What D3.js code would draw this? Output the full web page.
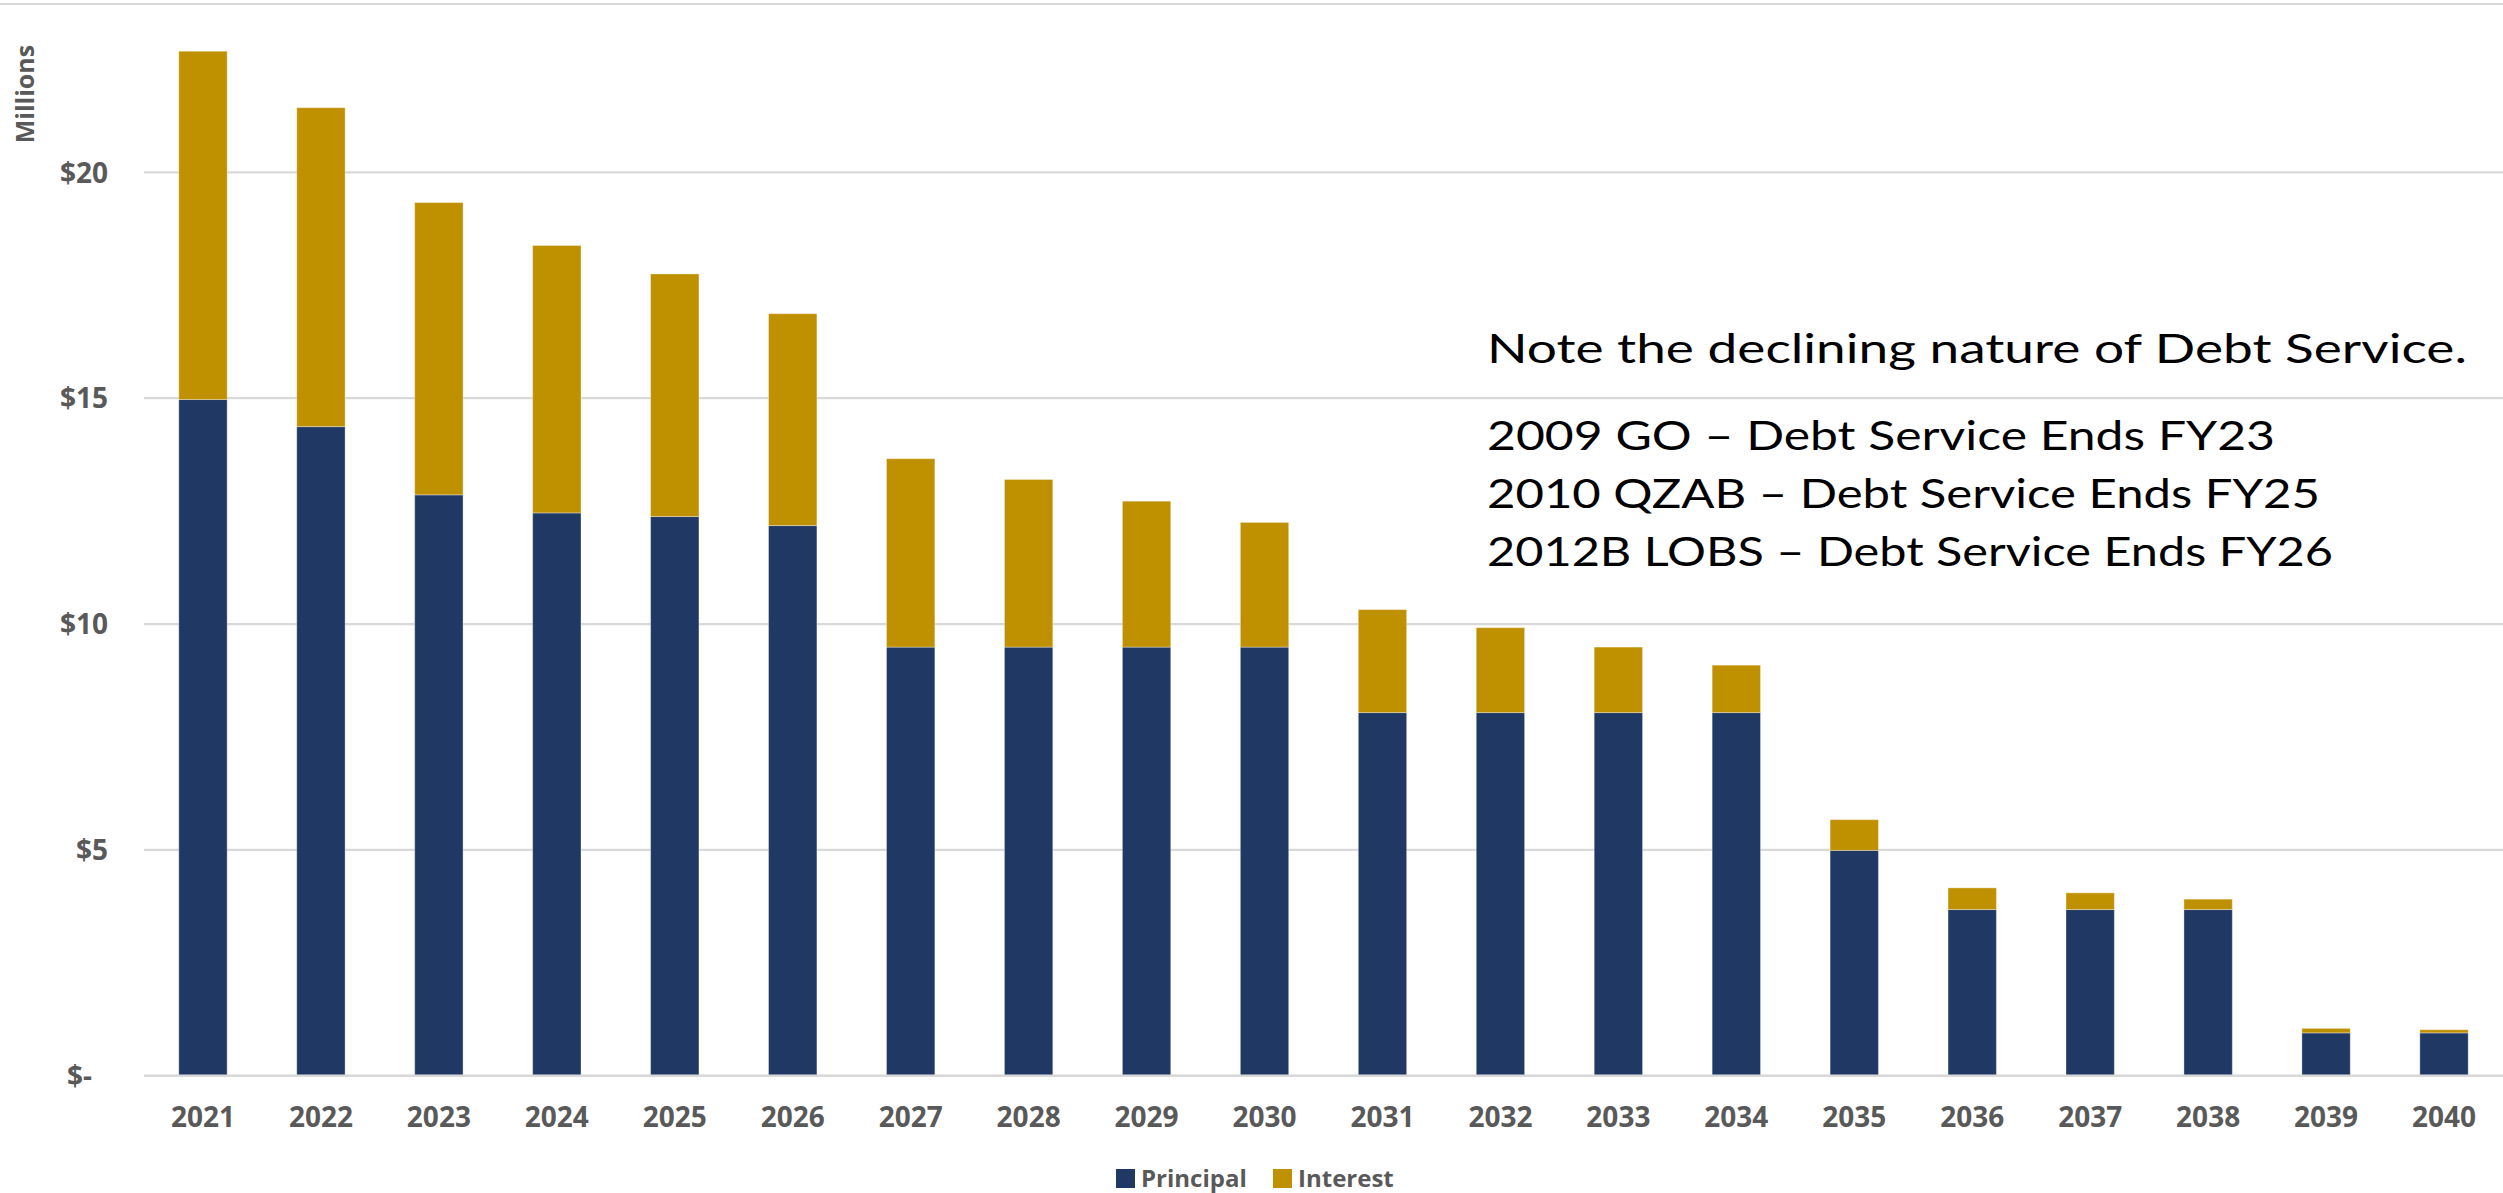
<!DOCTYPE html>
<html>
<head>
<meta charset="utf-8">
<script src="https://cdn.jsdelivr.net/npm/d3@7"></script>
<style>
html,body{margin:0;padding:0;background:#fff;}
svg{display:block;}
</style>
</head>
<body>
<svg id="chart" width="2503" height="1193"></svg>
<script>
// ---- data ----
const years = ["2021","2022","2023","2024","2025","2026","2027","2028","2029","2030",
               "2031","2032","2033","2034","2035","2036","2037","2038","2039","2040"];
const principal = [14.97,14.37,12.86,12.46,12.38,12.18,9.49,9.49,9.49,9.49,
                   8.04,8.04,8.04,8.04,4.99,3.68,3.68,3.68,0.95,0.95];
const interest  = [7.71,7.06,6.47,5.92,5.37,4.69,4.17,3.71,3.23,2.76,
                   2.28,1.88,1.45,1.05,0.68,0.48,0.37,0.23,0.10,0.07];
const seriesNames = ["Principal","Interest"];
const seriesColors = ["#203864","#BF9000"];
const yTicks = [0,5,10,15,20];
const axisTitle = "Millions";
const noteLines = ["Note the declining nature of Debt Service.",
                   "2009 GO \u2013 Debt Service Ends FY23",
                   "2010 QZAB \u2013 Debt Service Ends FY25",
                   "2012B LOBS \u2013 Debt Service Ends FY26"];

// ---- layout ----
const svg = d3.select("#chart");
const left = 144, right = 2503, y0 = 1075.8, pxPerUnit = 45.175;
const x = d3.scaleBand().domain(years).range([left, right]).paddingInner(0.59).paddingOuter(0.295);
const y = d3.scaleLinear().domain([0, 20]).range([y0, y0 - 20 * pxPerUnit]);

const axisFont = "'Open Sans', 'Noto Sans', sans-serif";
const gray = "#595959";

// top border line
svg.append("line").attr("x1", 0).attr("x2", 2503).attr("y1", 4).attr("y2", 4)
   .attr("stroke", "#d9d9d9").attr("stroke-width", 2);

// gridlines
svg.append("g").selectAll("line").data(yTicks).join("line")
   .attr("x1", left).attr("x2", right)
   .attr("y1", d => y(d)).attr("y2", d => y(d))
   .attr("stroke", "#d9d9d9").attr("stroke-width", 2.2);

// stacked data
const rows = years.map((yr, i) => ({year: yr, Principal: principal[i], Interest: interest[i]}));
const stack = d3.stack().keys(seriesNames)(rows);

svg.append("g").selectAll("g").data(stack).join("g")
   .attr("fill", (d, i) => seriesColors[i])
   .selectAll("rect").data(d => d).join("rect")
   .attr("x", d => x(d.data.year))
   .attr("width", x.bandwidth())
   .attr("y", d => y(d[1]))
   .attr("height", d => y(d[0]) - y(d[1]))
   .attr("stroke", "#ffffff").attr("stroke-opacity", 0.35).attr("stroke-width", 1);

// y axis labels
const yAxis = d3.axisLeft(y).tickValues(yTicks).tickSize(0)
   .tickFormat(d => d === 0 ? "$-" : "$" + d);
const gy = svg.append("g").attr("transform", "translate(108,0)").call(yAxis);
gy.select(".domain").remove();
gy.selectAll("text").attr("x", 0).attr("dy", "0.35em")
  .style("font-family", axisFont).style("font-weight", 700).style("font-size", "28px")
  .attr("fill", gray).attr("text-anchor", "end");
gy.selectAll(".tick").filter(d => d === 0).select("text").attr("x", -16);

// x axis labels
const xAxis = d3.axisBottom(x).tickSize(0);
const gx = svg.append("g").attr("transform", `translate(0,${y0})`).call(xAxis);
gx.select(".domain").remove();
gx.selectAll("text").attr("y", 51).attr("dy", 0)
  .style("font-family", axisFont).style("font-weight", 700).style("font-size", "28px")
  .attr("fill", gray);

// baseline
svg.append("line").attr("x1", left).attr("x2", right).attr("y1", y0).attr("y2", y0)
   .attr("stroke", "#d9d9d9").attr("stroke-width", 2.4);

// axis title
svg.append("text").attr("transform", "translate(34,94) rotate(-90)")
   .attr("text-anchor", "middle")
   .style("font-family", axisFont).style("font-weight", 700).style("font-size", "25px")
   .attr("fill", gray).text(axisTitle);

// legend
const legendX = [1116, 1273];
const lg = svg.append("g").selectAll("g").data(seriesNames).join("g")
   .attr("transform", (d, i) => `translate(${legendX[i]},1169)`);
lg.append("rect").attr("width", 19).attr("height", 19).attr("fill", (d, i) => seriesColors[i]);
lg.append("text").attr("x", 25).attr("y", 17.5)
  .style("font-family", axisFont).style("font-weight", 700).style("font-size", "24px")
  .attr("fill", gray).text(d => d);

// annotation
const noteY = [363, 450, 508, 566];
const noteW = [980, 788, 833, 846];
svg.append("g").selectAll("text").data(noteLines).join("text")
   .attr("x", 1487).attr("y", (d, i) => noteY[i])
   .attr("textLength", (d, i) => noteW[i]).attr("lengthAdjust", "spacingAndGlyphs")
   .style("font-family", "Lato, 'Noto Sans', sans-serif").style("font-weight", 400)
   .style("font-size", "41px").attr("fill", "#000").text(d => d);
</script>
</body>
</html>
